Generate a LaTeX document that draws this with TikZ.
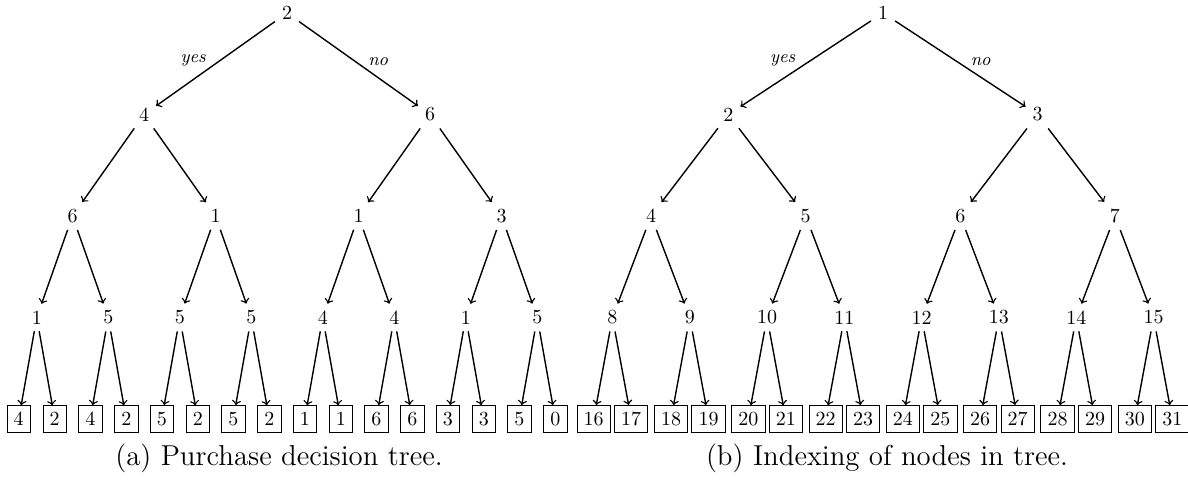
\documentclass[tikz,border=0pt]{standalone}
\usepackage{tikz}

\begin{document}
\begin{tikzpicture}[x=0.5pt,y=-0.5pt]
    \pgfmathsetmacro{\lev}{101.5}	%level distance
    \tikzset{
        branch/.style={->, line width=0.7pt},
        leaf/.style={draw, rectangle},
        answer/.style={font=\small\itshape, inner sep=1pt, pos=0.56},
        subcap/.style={font=\Large}
    };
    \useasboundingbox (0,0) rectangle (1188,481);
    % (a) purchase tree
    \pgfmathsetmacro{\rx}{287}
    \pgfmathsetmacro{\dd}{71.5}
    \pgfmathsetmacro{\dl}{36}
    \foreach \lbl [count=\n] in {2,4,6,6,1,1,3,1,5,5,5,4,4,1,5,4,2,4,2,5,2,5,2,1,1,6,6,3,3,5,0}{
        \pgfmathtruncatemacro{\l}{(\n>1)+(\n>3)+(\n>7)+(\n>15)}
        \pgfmathtruncatemacro{\i}{\n-2^\l}
        \ifnum\l<4
            \pgfmathsetmacro{\xx}{\rx+(\i+0.5)*\dd*2^(3-\l)-4*\dd}
            \node (a\n) at (\xx,{13+\l*\lev}) {\lbl};
        \else
            \pgfmathsetmacro{\xx}{\rx+(floor(\i/2)-3.5)*\dd+(mod(\i,2)-0.5)*\dl}
            \node[leaf] (a\n) at (\xx,{13+\l*\lev}) {\lbl};
        \fi
    }
    \draw[branch] (a1) -- node[answer, above left] {yes} (a2);
    \draw[branch] (a1) -- node[answer, above right] {no} (a3);
    \foreach \n in {4,...,31}{
        \pgfmathtruncatemacro{\p}{\n/2}
        \draw[branch] (a\p) -- (a\n);
    }
    \node[subcap] (cap-a) at (279,458) {(a) Purchase decision tree.};
    % (b) indexing
    \pgfmathsetmacro{\rx}{883}
    \pgfmathsetmacro{\dd}{77.3}
    \pgfmathsetmacro{\dl}{37.5}
    \foreach \n in {1,...,31}{
        \pgfmathtruncatemacro{\l}{(\n>1)+(\n>3)+(\n>7)+(\n>15)}
        \pgfmathtruncatemacro{\i}{\n-2^\l}
        \ifnum\l<4
            \pgfmathsetmacro{\xx}{\rx+(\i+0.5)*\dd*2^(3-\l)-4*\dd}
            \node (b\n) at (\xx,{13+\l*\lev}) {\n};
        \else
            \pgfmathsetmacro{\xx}{\rx+(floor(\i/2)-3.5)*\dd+(mod(\i,2)-0.5)*\dl}
            \node[leaf] (b\n) at (\xx,{13+\l*\lev}) {\n};
        \fi
    }
    \draw[branch] (b1) -- node[answer, above left] {yes} (b2);
    \draw[branch] (b1) -- node[answer, above right] {no} (b3);
    \foreach \n in {4,...,31}{
        \pgfmathtruncatemacro{\p}{\n/2}
        \draw[branch] (b\p) -- (b\n);
    }
    \node[subcap] (cap-b) at (887,458) {(b) Indexing of nodes in tree.};
\end{tikzpicture}
\end{document}
